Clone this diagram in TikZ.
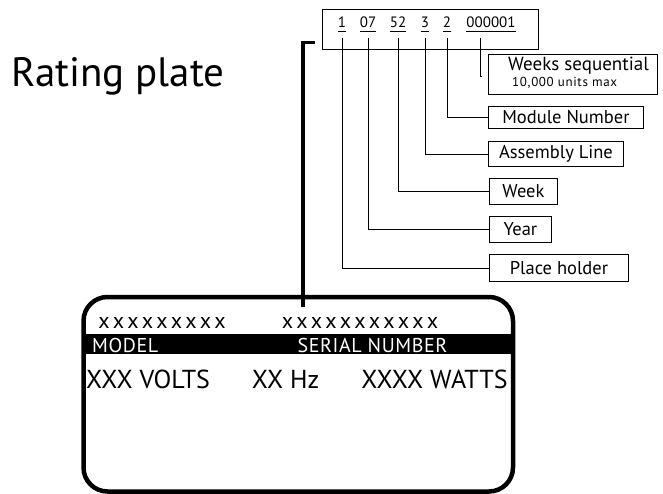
\documentclass[tikz,border=0pt]{standalone}
\usepackage{fontspec}
\setmainfont{PT Sans}
\usetikzlibrary{calc}
\tikzset{
  lbl/.style={draw, line width=0.9pt, anchor=north west, inner sep=0pt, font=\fontsize{18.5}{20}\selectfont},
  dig/.style={anchor=base, inner sep=0pt, font=\fontsize{15}{17}\selectfont},
  conn/.style={line width=0.8pt},
  plate/.style={font=\fontsize{26}{28}\selectfont, inner sep=0pt},
  band/.style={plate, text=white, font=\fontsize{20}{22}\selectfont\addfontfeature{LetterSpace=3}},
  xs/.style={plate, font=\fontsize{22}{24}\selectfont\addfontfeature{LetterSpace=16}},
}
\begin{document}
\begin{tikzpicture}[x=1pt,y=-1pt]
\useasboundingbox (0,0) rectangle (663,494);
% title
\node[anchor=base west, inner sep=0pt, font=\fontsize{41}{44}\selectfont] (title) at (11,87) {Rating plate};
% code box
\node[draw, line width=0.9pt, anchor=north west, minimum width=216pt, minimum height=40pt, inner sep=0pt] (code) at (322,9) {};
\node[dig] (d1) at (342,28) {1};
\node[dig] (d2) at (368,28) {07};
\node[dig] (d3) at (398,28) {52};
\node[dig] (d4) at (425,28) {3};
\node[dig] (d5) at (447,28) {2};
\node[dig] (d6) at (491,28) {000001};
\foreach \d in {d1,d2,d3,d4,d5,d6}
  \draw[conn] ([yshift=-3pt]\d.base west) -- ([yshift=-3pt]\d.base east);
% label boxes
\node[lbl, minimum width=169pt, minimum height=40pt] (ws) at (488,54) {};
\node[anchor=base west, inner sep=0pt, font=\fontsize{19}{21}\selectfont] (wst) at (508,71) {Weeks sequential};
\node[anchor=base west, inner sep=0pt, font=\fontsize{13}{15}\selectfont\addfontfeature{LetterSpace=5}] (wsu) at (512,87) {10,000 units max};
\node[lbl, minimum width=155pt, minimum height=22pt] (mn) at (488,106) {Module Number};
\node[lbl, minimum width=135pt, minimum height=25pt] (al) at (488,141) {Assembly Line};
\node[lbl, minimum width=68pt, minimum height=26pt] (wk) at (489,178) {Week};
\node[lbl, minimum width=62pt, minimum height=26pt] (yr) at (489,216) {Year};
\node[lbl, minimum width=139pt, minimum height=27pt] (ph) at (489,254) {Place holder};
% connectors
\coordinate (wsend) at (480,76);
\draw[conn] ([xshift=-11pt,yshift=-10pt]d6.base) -- (wsend) -- ++(2,0);
\draw[conn] ([yshift=-10pt]d5.base) |- (mn.west);
\draw[conn] ([yshift=-10pt]d4.base) |- (al.west);
\draw[conn] ([yshift=-10pt]d3.base) |- (wk.west);
\draw[conn] ([yshift=-10pt]d2.base) |- (yr.west);
\draw[conn] ([yshift=-10pt]d1.base) |- (ph.west);
% plate
\draw[line width=4.5pt, rounded corners=24pt] (83.5,297) rectangle (513,491.5);
\coordinate (pl) at (303,307);
\draw[line width=3.2pt] (315,42.5) -| (pl);
\fill (84,334) rectangle (512.5,354);
\node[xs] (m1) at (162,323) {xxxxxxxxx};
\node[xs] (s1) at (360,323) {xxxxxxxxxxx};
\node[band, anchor=west] (model) at (92,345) {MODEL};
\node[band] (serial) at (372.5,345) {SERIAL NUMBER};
\node[plate] (v) at (148,379) {XXX VOLTS};
\node[plate] (hz) at (285.5,379) {XX Hz};
\node[plate] (w) at (434.5,379) {XXXX WATTS};
\end{tikzpicture}
\end{document}
